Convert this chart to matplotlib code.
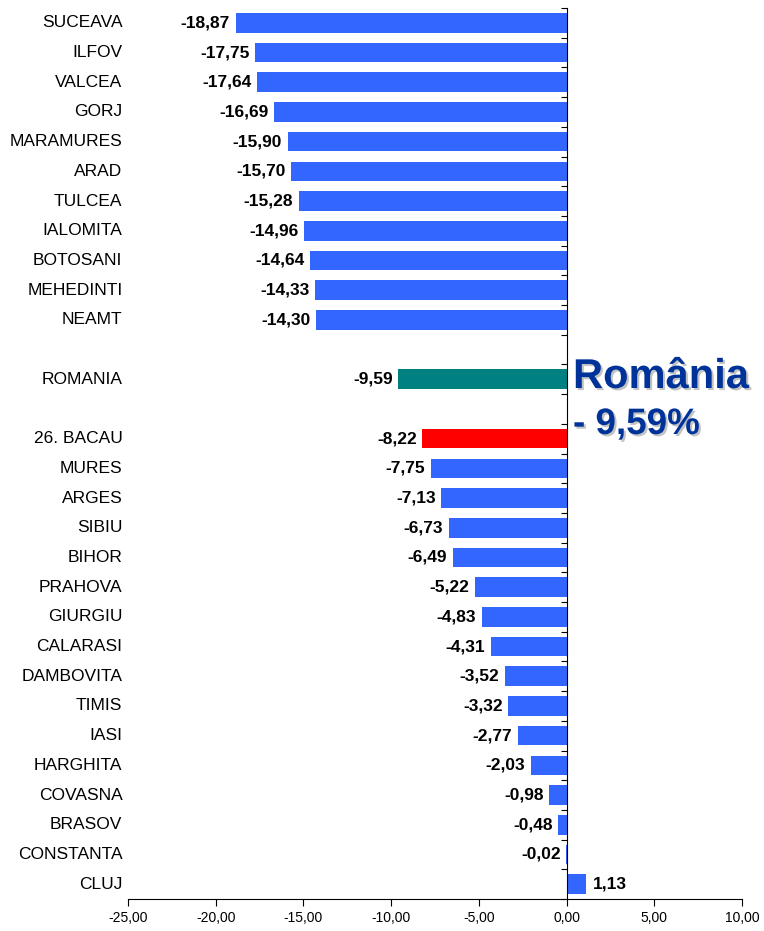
import matplotlib
matplotlib.use("Agg")
import matplotlib.pyplot as plt
import matplotlib.patheffects as pe
import numpy as np

plt.rcParams["font.family"] = ["Liberation Sans", "DejaVu Sans"]

# rows top to bottom; None marks an empty slot
counties = ["SUCEAVA", "ILFOV", "VALCEA", "GORJ", "MARAMURES", "ARAD", "TULCEA",
            "IALOMITA", "BOTOSANI", "MEHEDINTI", "NEAMT", None, "ROMANIA", None,
            "26. BACAU", "MURES", "ARGES", "SIBIU", "BIHOR", "PRAHOVA", "GIURGIU",
            "CALARASI", "DAMBOVITA", "TIMIS", "IASI", "HARGHITA", "COVASNA",
            "BRASOV", "CONSTANTA", "CLUJ"]
values = [-18.87, -17.75, -17.64, -16.69, -15.90, -15.70, -15.28, -14.96, -14.64,
          -14.33, -14.30, None, -9.59, None, -8.22, -7.75, -7.13, -6.73, -6.49,
          -5.22, -4.83, -4.31, -3.52, -3.32, -2.77, -2.03, -0.98, -0.48, -0.02, 1.13]
xticks = [-25, -20, -15, -10, -5, 0, 5, 10]

BLUE = "#3366FF"
TEAL = "#008080"
RED = "#FF0000"

fig = plt.figure(figsize=(7.64, 9.31), dpi=100)
ax = fig.add_axes([128 / 764, 1 - 899 / 931, 614 / 764, 891 / 931])

for i, (name, v) in enumerate(zip(counties, values)):
    if name is None:
        continue
    col = TEAL if name == "ROMANIA" else RED if "BACAU" in name else BLUE
    ax.barh(i, v, height=0.66, color=col)
    lab = f"{v:.2f}".replace(".", ",")
    if v < 0:
        ax.annotate(lab, (v, i), xytext=(-4, 0), textcoords="offset points",
                    ha="right", va="center", fontsize=12.5, fontweight="bold")
    else:
        ax.annotate(lab, (v, i), xytext=(5, 0), textcoords="offset points",
                    ha="left", va="center", fontsize=12.5, fontweight="bold")
    ax.annotate(name, (0, i), xycoords=("axes fraction", "data"), xytext=(-4, 0),
                textcoords="offset points", ha="right", va="center", fontsize=12.5)

ax.set_xlim(-25, 10)
ax.set_ylim(29.5, -0.5)
ax.set_xticks(xticks)
ax.set_xticklabels([f"{t:.2f}".replace(".", ",") for t in xticks], fontsize=10)
ax.set_yticks(np.arange(-0.5, 30, 1.0))
ax.set_yticklabels([])
ax.spines["left"].set_position(("data", 0))
ax.spines["top"].set_visible(False)
ax.spines["right"].set_visible(False)
ax.tick_params(axis="y", direction="out", length=4, width=0.8)
ax.tick_params(axis="x", direction="out", length=5, width=0.8, pad=4)

shadow = [pe.withSimplePatchShadow(offset=(1.5, -1.5), shadow_rgbFace="#aaaaaa", alpha=0.7)]
fig.text(573 / 764, 1 - 388 / 931, "România", fontsize=30, fontweight="bold",
         color="#003399", ha="left", va="baseline", path_effects=shadow)
fig.text(573 / 764, 1 - 434 / 931, "- 9,59%", fontsize=26.5, fontweight="bold",
         color="#003399", ha="left", va="baseline", path_effects=shadow)

fig.savefig("out.png", dpi=100)
